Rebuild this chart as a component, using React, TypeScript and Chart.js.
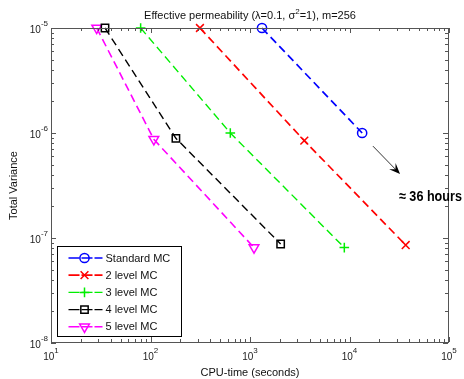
import React, { useEffect, useRef } from "react";
import { Chart, registerables } from "chart.js";
import { drawPoint } from "chart.js/helpers";

Chart.register(...registerables);

const seriesNames = ["Standard MC", "2 level MC", "3 level MC", "4 level MC", "5 level MC"];
const standardX = [1320, 13400];
const standardY = [1e-5, 1e-6];
const level2X = [314, 3515, 36700];
const level2Y = [1e-5, 8.45e-7, 8.57e-8];
const level3X = [79.6, 634, 8870];
const level3Y = [1e-5, 1e-6, 8.1e-8];
const level4X = [34.9, 180, 2032];
const level4Y = [1e-5, 8.9e-7, 8.77e-8];
const level5X = [28.8, 108, 1097];
const level5Y = [1e-5, 8.7e-7, 8.1e-8];

const xDecades = [1, 2, 3, 4, 5];
const yDecades = [-8, -7, -6, -5];
const arrowFrom = { x: 17200, y: 7.5e-7 };
const arrowTo = { x: 32200, y: 4.07e-7 };
const noteAt = { x: 31400, y: 2.45e-7 };
const noteText = "≈ 36 hours";
const titleParts = ["Effective permeability (λ=0.1, σ", "2", "=1), m=256"];
const xTitle = "CPU-time (seconds)";
const yTitle = "Total Variance";

const DASH = [8, 4.5];

const styles = [
  { color: "#0000ff", style: "circle", radius: 4.6, rotation: 0, lw: 1.7 },
  { color: "#ff0000", style: "crossRot", radius: 5.5, rotation: 0, lw: 1.7 },
  { color: "#00ee00", style: "cross", radius: 4.8, rotation: 0, lw: 1.4 },
  { color: "#000000", style: "rect", radius: 5.2, rotation: 0, lw: 1.4 },
  { color: "#ff00ff", style: "triangle", radius: 5.6, rotation: 180, lw: 1.6 },
];

const FONT = "'Liberation Sans', Arial, sans-serif";

function zip(xs: number[], ys: number[]) {
  return xs.map((x, i) => ({ x, y: ys[i] }));
}

const overlay = {
  id: "matlabOverlay",
  afterDatasetsDraw(chart: any) {
    const ctx: CanvasRenderingContext2D = chart.ctx;
    const { left, right, top, bottom } = chart.chartArea;
    const xs = chart.scales.x;
    const ys = chart.scales.y;
    ctx.save();
    ctx.strokeStyle = "#555";
    ctx.lineWidth = 1;
    ctx.strokeRect(Math.round(left) + 0.5, Math.round(top) + 0.5, Math.round(right - left) - 1, Math.round(bottom - top) - 1);
    const tick = (x1: number, y1: number, x2: number, y2: number) => {
      ctx.beginPath();
      ctx.moveTo(x1, y1);
      ctx.lineTo(x2, y2);
      ctx.stroke();
    };
    for (let d = xDecades[0]; d <= xDecades[xDecades.length - 1]; d++) {
      for (let m = 1; m <= 9; m++) {
        if (d === xDecades[xDecades.length - 1] && m > 1) break;
        const v = m * Math.pow(10, d);
        const px = Math.round(xs.getPixelForValue(v)) + 0.5;
        const len = m === 1 ? 5 : 3;
        tick(px, bottom - 1, px, bottom - 1 - len);
        tick(px, top, px, top + len);
      }
    }
    for (let d = yDecades[0]; d <= yDecades[yDecades.length - 1]; d++) {
      for (let m = 1; m <= 9; m++) {
        if (d === yDecades[yDecades.length - 1] && m > 1) break;
        const v = m * Math.pow(10, d);
        const py = Math.round(ys.getPixelForValue(v)) + 0.5;
        const len = m === 1 ? 5 : 3;
        tick(left, py, left + len, py);
        tick(right - 1, py, right - 1 - len, py);
      }
    }
    ctx.fillStyle = "#222";
    ctx.textBaseline = "alphabetic";
    const baseFont = `10px ${FONT}`;
    const supFont = `8px ${FONT}`;
    xDecades.forEach((d) => {
      const px = xs.getPixelForValue(Math.pow(10, d));
      ctx.font = baseFont;
      const w1 = ctx.measureText("10").width;
      ctx.font = supFont;
      const w2 = ctx.measureText(String(d)).width;
      const x0 = px - (w1 + w2) / 2;
      ctx.font = baseFont;
      ctx.textAlign = "left";
      ctx.fillText("10", x0, bottom + 17);
      ctx.font = supFont;
      ctx.fillText(String(d), x0 + w1, bottom + 10);
    });
    yDecades.forEach((d) => {
      const py = ys.getPixelForValue(Math.pow(10, d));
      ctx.font = supFont;
      const w2 = ctx.measureText(String(d)).width;
      ctx.font = baseFont;
      const w1 = ctx.measureText("10").width;
      const xr = left - 3;
      ctx.textAlign = "left";
      ctx.fillText("10", xr - w2 - w1, py + 5);
      ctx.font = supFont;
      ctx.fillText(String(d), xr - w2, py - 2);
    });
    ctx.fillStyle = "#111";
    const tFont = `11px ${FONT}`;
    const tSup = `8px ${FONT}`;
    ctx.font = tFont;
    const a = ctx.measureText(titleParts[0]).width;
    const c = ctx.measureText(titleParts[2]).width;
    ctx.font = tSup;
    const b = ctx.measureText(titleParts[1]).width;
    let tx = (left + right) / 2 - (a + b + c) / 2;
    const ty = top - 9;
    ctx.font = tFont;
    ctx.fillText(titleParts[0], tx, ty);
    tx += a;
    ctx.font = tSup;
    ctx.fillText(titleParts[1], tx, ty - 5);
    tx += b;
    ctx.font = tFont;
    ctx.fillText(titleParts[2], tx, ty);
    ctx.font = `11px ${FONT}`;
    ctx.textAlign = "center";
    ctx.fillText(xTitle, (left + right) / 2, bottom + 33);
    ctx.save();
    ctx.translate(17, (top + bottom) / 2);
    ctx.rotate(-Math.PI / 2);
    ctx.fillText(yTitle, 0, 0);
    ctx.restore();
    const ax1 = xs.getPixelForValue(arrowFrom.x);
    const ay1 = ys.getPixelForValue(arrowFrom.y);
    const ax2 = xs.getPixelForValue(arrowTo.x);
    const ay2 = ys.getPixelForValue(arrowTo.y);
    const ang = Math.atan2(ay2 - ay1, ax2 - ax1);
    ctx.strokeStyle = "#000";
    ctx.lineWidth = 0.8;
    ctx.beginPath();
    ctx.moveTo(ax1, ay1);
    ctx.lineTo(ax2 - 6 * Math.cos(ang), ay2 - 6 * Math.sin(ang));
    ctx.stroke();
    ctx.fillStyle = "#000";
    ctx.beginPath();
    const hl = 11, hw = 4.5;
    const bx = ax2 - hl * Math.cos(ang), by = ay2 - hl * Math.sin(ang);
    const nx = ax2 - hl * 0.6 * Math.cos(ang), ny = ay2 - hl * 0.6 * Math.sin(ang);
    ctx.moveTo(ax2, ay2);
    ctx.lineTo(bx - hw * Math.sin(ang), by + hw * Math.cos(ang));
    ctx.lineTo(nx, ny);
    ctx.lineTo(bx + hw * Math.sin(ang), by - hw * Math.cos(ang));
    ctx.closePath();
    ctx.fill();
    const nxp = xs.getPixelForValue(noteAt.x);
    const nyp = ys.getPixelForValue(noteAt.y);
    ctx.font = `bold 15px ${FONT}`;
    ctx.textAlign = "left";
    ctx.textBaseline = "middle";
    const nw = ctx.measureText(noteText).width;
    const sx = 63 / nw;
    ctx.save();
    ctx.translate(nxp, nyp);
    ctx.scale(sx, 1);
    ctx.fillText(noteText, 0, 0);
    ctx.restore();
    const lbx = Math.round(left) + 6.5;
    const lbw = 124;
    const lbh = 90;
    const lby = Math.round(bottom) - 6.5 - lbh;
    ctx.fillStyle = "#fff";
    ctx.fillRect(lbx, lby, lbw, lbh);
    ctx.strokeStyle = "#000";
    ctx.lineWidth = 1;
    ctx.strokeRect(lbx, lby, lbw, lbh);
    ctx.textBaseline = "middle";
    ctx.font = `11px ${FONT}`;
    seriesNames.forEach((name, i) => {
      const s = styles[i];
      const cy = lby + 11.5 + i * 17.2;
      ctx.strokeStyle = s.color;
      ctx.lineWidth = s.lw;
      ctx.setLineDash([11, 2]);
      ctx.beginPath();
      ctx.moveTo(lbx + 11, cy);
      ctx.lineTo(lbx + 45, cy);
      ctx.stroke();
      ctx.setLineDash([]);
      ctx.fillStyle = "rgba(0,0,0,0)";
      ctx.lineWidth = 1.5;
      drawPoint(ctx, { pointStyle: s.style, rotation: s.rotation, radius: s.radius, borderWidth: 1.5 } as any, lbx + 27, cy);
      ctx.fillStyle = "#111";
      ctx.fillText(name, lbx + 48, cy + 0.5);
    });
    ctx.restore();
  },
};

export default function App() {
  const ref = useRef<HTMLCanvasElement>(null);
  useEffect(() => {
    document.body.style.margin = "0";
    const xsets = [standardX, level2X, level3X, level4X, level5X];
    const ysets = [standardY, level2Y, level3Y, level4Y, level5Y];
    const chart = new Chart(ref.current as HTMLCanvasElement, {
      type: "line",
      data: {
        datasets: seriesNames.map((name, i) => ({
          label: name,
          data: zip(xsets[i], ysets[i]),
          borderColor: styles[i].color,
          borderWidth: styles[i].lw,
          borderDash: DASH,
          pointStyle: styles[i].style as any,
          pointRotation: styles[i].rotation,
          pointRadius: styles[i].radius,
          pointBorderWidth: 1.5,
          pointBorderColor: styles[i].color,
          pointBackgroundColor: "rgba(0,0,0,0)",
          fill: false,
          tension: 0,
          clip: false as any,
        })),
      },
      options: {
        responsive: false,
        animation: false,
        devicePixelRatio: 1,
        layout: { padding: { left: 51, right: 15, top: 28, bottom: 36 } },
        plugins: { legend: { display: false }, title: { display: false }, tooltip: { enabled: false } },
        events: [],
        scales: {
          x: { type: "logarithmic", min: 10, max: 1e5, display: false },
          y: { type: "logarithmic", min: 1e-8, max: 1e-5, display: false },
        },
      },
      plugins: [overlay],
    });
    return () => chart.destroy();
  }, []);
  return <canvas ref={ref} width={464} height={379} style={{ display: "block" }} />;
}
